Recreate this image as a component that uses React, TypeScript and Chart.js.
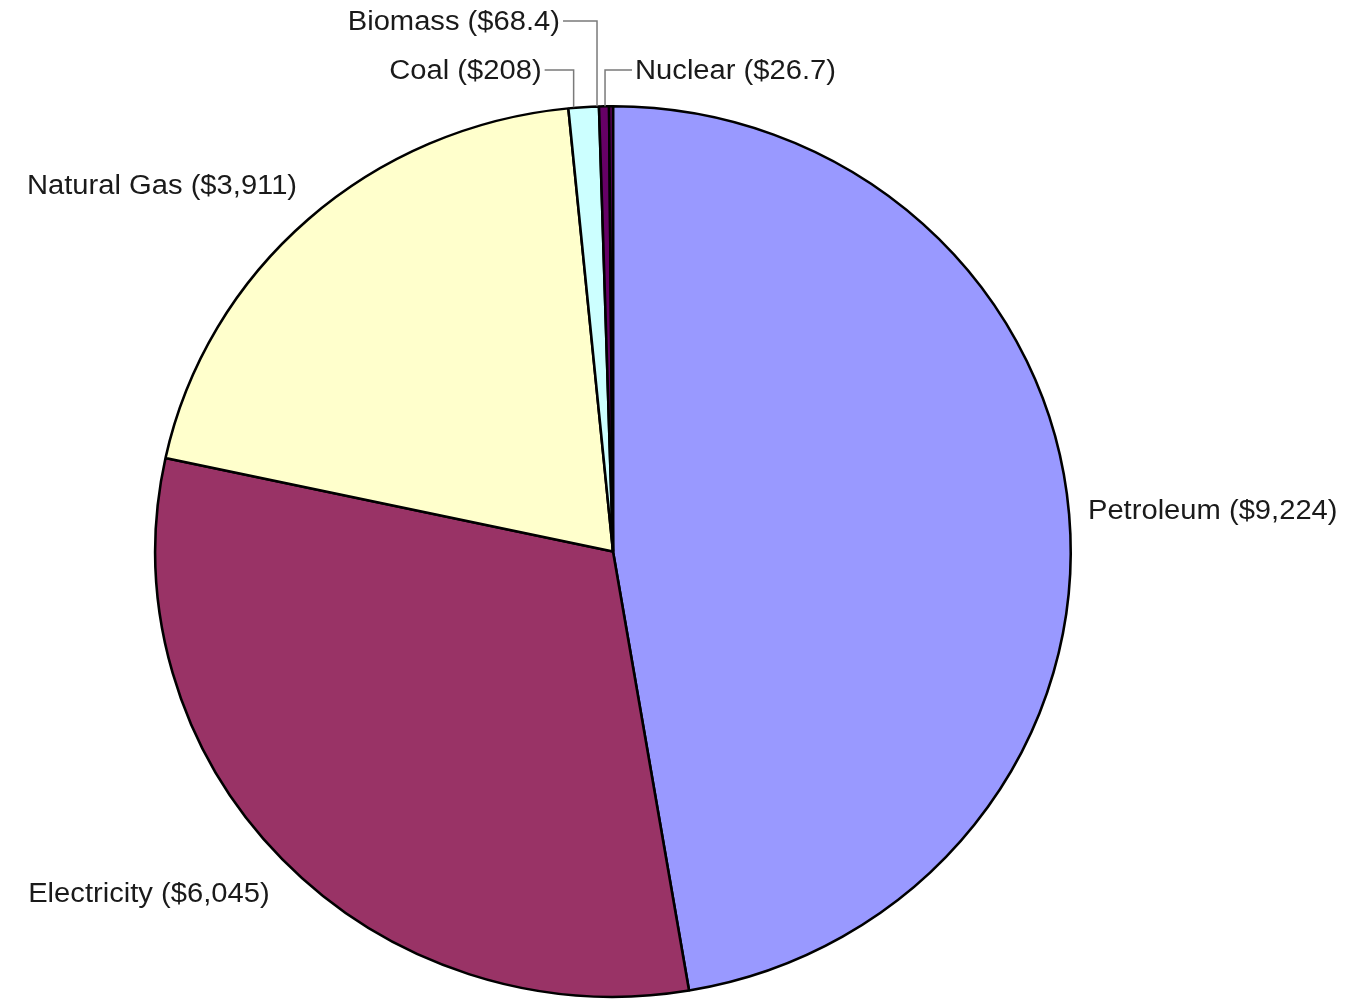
import React, { useEffect, useRef } from "react";
import { Chart, registerables } from "chart.js";

Chart.register(...registerables);

// ---- data ----
const categories = ["Petroleum", "Electricity", "Natural Gas", "Coal", "Biomass", "Nuclear"];
const values = [9224, 6045, 3911, 208, 68.4, 26.7];
const colors = ["#9999FF", "#993366", "#FFFFCC", "#CCFFFF", "#660066", "#660066"];

// ---- label layout for the thin slices (leader lines) ----
const leaderLevels: (number | null)[] = [null, null, null, 70, 21, 70];
const leaderSides: (string | null)[] = [null, null, null, "left", "left", "right"];
const leaderRuns = [0, 0, 0, 29, 34, 27];
const leaderNudges = [0, 0, 0, -10, -7, -6];

// ---- styling ----
const SX = 1.028; // horizontal stretch of the pie (slightly elliptical in the reference)
const FONT_SIZE = 27;
const TEXT_SX = 1.08;
const BOX_H = 36;
const LABEL_K = 1.05;
const TEXT_DY = 2;

function drawText(ctx: CanvasRenderingContext2D, text: string, left: number, cy: number) {
  ctx.save();
  ctx.translate(left, cy + TEXT_DY);
  ctx.scale(TEXT_SX, 1);
  ctx.textAlign = "left";
  ctx.textBaseline = "middle";
  ctx.fillStyle = "#1a1a1a";
  ctx.fillText(text, 0, 0);
  ctx.restore();
}

const ellipsePlugin = {
  id: "ellipseStretch",
  beforeDatasetsDraw(chart: any) {
    const el = chart.getDatasetMeta(0).data[0];
    if (!el) return;
    const cx = el.x;
    const ctx = chart.ctx;
    ctx.save();
    ctx.translate(cx, 0);
    ctx.scale(SX, 1);
    ctx.translate(-cx, 0);
  },
  afterDatasetsDraw(chart: any) {
    chart.ctx.restore();
  },
};

const labelPlugin = {
  id: "pieLabels",
  afterDraw(chart: any) {
    const ctx: CanvasRenderingContext2D = chart.ctx;
    const meta = chart.getDatasetMeta(0);
    meta.data.forEach((el: any, i: number) => {
      const { x: cx, y: cy, startAngle, endAngle, outerRadius } = el.getProps(
        ["x", "y", "startAngle", "endAngle", "outerRadius"],
        true
      );
      const mid = (startAngle + endAngle) / 2;
      const text = `${categories[i]} ($${values[i].toLocaleString("en-US")})`;
      ctx.save();
      ctx.font = `${FONT_SIZE}px "Liberation Sans", Arial, sans-serif`;
      const w = ctx.measureText(text).width * TEXT_SX;
      const level = leaderLevels[i];
      if (level == null) {
        const ax = cx + Math.cos(mid) * outerRadius * SX * LABEL_K;
        const ay = cy + Math.sin(mid) * outerRadius * LABEL_K;
        const f = Math.max(-1, Math.min(1, Math.sin(mid) * 2));
        const centerY = ay + (f * BOX_H) / 2;
        const left = Math.cos(mid) < 0 ? ax - w + 4 : ax - 4;
        drawText(ctx, text, left, centerY);
      } else {
        const rx = cx + Math.cos(mid) * outerRadius * SX + leaderNudges[i];
        const ry = cy + Math.sin(mid) * outerRadius;
        const side = leaderSides[i];
        const tx = side === "left" ? rx - leaderRuns[i] : rx + leaderRuns[i];
        ctx.strokeStyle = "#7a7a7a";
        ctx.lineWidth = 1.5;
        ctx.beginPath();
        ctx.moveTo(rx, ry);
        ctx.lineTo(rx, level);
        ctx.lineTo(tx, level);
        ctx.stroke();
        const left = side === "left" ? tx - 3 - w : tx + 3;
        drawText(ctx, text, left, level);
      }
      ctx.restore();
    });
  },
};

export default function App() {
  const canvasRef = useRef<HTMLCanvasElement | null>(null);

  useEffect(() => {
    if (!canvasRef.current) return;
    const chart = new Chart(canvasRef.current, {
      type: "pie",
      data: {
        labels: categories,
        datasets: [
          {
            data: values,
            backgroundColor: colors,
            borderColor: "#000000",
            borderWidth: 2.5,
          },
        ],
      },
      options: {
        animation: false,
        responsive: true,
        maintainAspectRatio: false,
        layout: { padding: { left: 166.5, right: 290.5, top: 105, bottom: 3 } },
        plugins: {
          legend: { display: false },
          tooltip: { enabled: false },
          title: { display: false },
        },
      },
      plugins: [ellipsePlugin, labelPlugin],
    });
    return () => chart.destroy();
  }, []);

  return (
    <div
      style={{
        position: "fixed",
        left: 0,
        top: 0,
        width: 1350,
        height: 1001,
        background: "#ffffff",
      }}
    >
      <canvas ref={canvasRef} />
    </div>
  );
}
